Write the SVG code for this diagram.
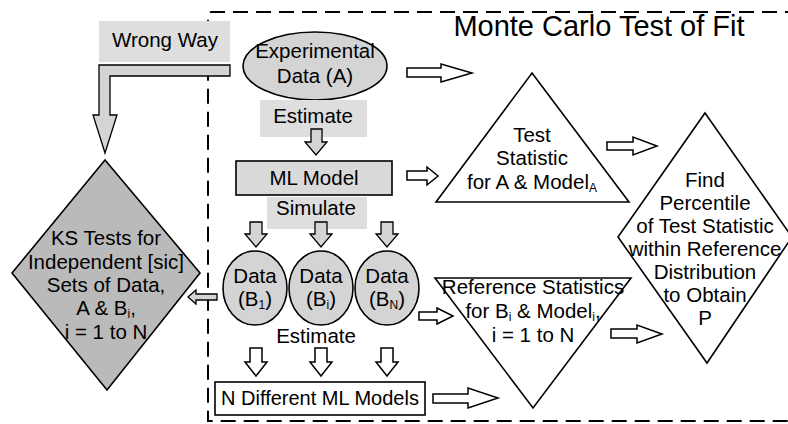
<svg xmlns="http://www.w3.org/2000/svg" width="788" height="424" viewBox="0 0 788 424">
<style>
text{font-family:"Liberation Sans",Arial,sans-serif;font-size:20.5px;fill:#000;text-anchor:middle}
.t{font-size:29px}
.sub{font-size:12px}
.shape{stroke:#000;stroke-width:1.6;fill:#fff}
.g1{fill:#dadada}
.g2{fill:#d4d4d4}
.g3{fill:#bababa}
.lbl{fill:#dedede;stroke:none}
.arr{fill:#fff;stroke:#000;stroke-width:1.5;stroke-linejoin:miter}
.garr{fill:#d4d4d4;stroke:#000;stroke-width:1.3}
.border{fill:none;stroke:#000;stroke-width:2;stroke-dasharray:15 8}
</style>
<rect width="788" height="424" fill="#fff"/>
<g id="frame">
<path class="border" d="M800 12 H212 Q208 12 208 16 V421 H800"/>
<text class="t" x="599" y="36">Monte Carlo Test of Fit</text>
</g>
<g id="wrongway">
<rect class="lbl" x="99" y="21" width="131" height="41"/>
<text x="165" y="47">Wrong Way</text>
</g>
<g id="expdata">
<ellipse class="shape g2" cx="315" cy="66" rx="72" ry="34"/>
<text x="315" y="58">Experimental</text>
<text x="315" y="83">Data (A)</text>
</g>
<g id="estimate1">
<rect class="lbl" x="260" y="100" width="107" height="37"/>
<text x="313" y="123">Estimate</text>
</g>
<g id="mlmodel">
<rect class="shape g1" x="236" y="161" width="156" height="34" stroke-width="2"/>
<text x="314" y="185">ML Model</text>
</g>
<g id="simulate">
<rect class="lbl" x="267" y="197" width="100" height="32"/>
<text x="316" y="215">Simulate</text>
</g>
<g id="dataB1">
<ellipse class="shape g2" cx="255" cy="288" rx="32" ry="37"/>
<text x="255" y="283">Data</text>
<text x="255" y="306">(B<tspan class="sub" dy="3">1</tspan><tspan dy="-3">)</tspan></text>
</g>
<g id="dataBi">
<ellipse class="shape g2" cx="321" cy="288" rx="32" ry="37"/>
<text x="321" y="283">Data</text>
<text x="321" y="306">(B<tspan class="sub" dy="3">i</tspan><tspan dy="-3">)</tspan></text>
</g>
<g id="dataBN">
<ellipse class="shape g2" cx="387" cy="288" rx="32" ry="37"/>
<text x="387" y="283">Data</text>
<text x="387" y="306">(B<tspan class="sub" dy="3">N</tspan><tspan dy="-3">)</tspan></text>
</g>
<g id="estimate2">
<text x="316" y="343">Estimate</text>
</g>
<g id="nmodels">
<rect class="shape" x="215" y="382" width="210" height="33"/>
<text x="320" y="405" style="font-size:20px">N Different ML Models</text>
</g>
<g id="kstests">
<polygon class="shape g3" points="105,160 200,273 107,390 12,273"/>
<text x="106" y="245">KS Tests for</text>
<text x="106" y="269">Independent [sic]</text>
<text x="106" y="292">Sets of Data,</text>
<text x="106" y="315">A &amp; B<tspan class="sub" dy="3">i</tspan><tspan dy="-3">,</tspan></text>
<text x="106" y="339">i = 1 to N</text>
</g>
<g id="teststat">
<polygon class="shape" points="532,73 629,202 436,202"/>
<text x="532" y="142">Test</text>
<text x="532" y="165">Statistic</text>
<text x="532" y="189">for A &amp; Model<tspan class="sub" dy="3">A</tspan></text>
</g>
<g id="refstat">
<polygon class="shape" points="435,278 631,278 533,408"/>
<text x="533" y="294">Reference Statistics</text>
<text x="533" y="318">for B<tspan class="sub" dy="3">i</tspan><tspan dy="-3"> &amp; Model</tspan><tspan class="sub" dy="3">i</tspan><tspan dy="-3">,</tspan></text>
<text x="533" y="342">i = 1 to N</text>
</g>
<g id="findp">
<polygon class="shape" points="705,113 792,237 707,363 618,237"/>
<text x="705" y="187">Find</text>
<text x="705" y="210">Percentile</text>
<text x="705" y="233">of Test Statistic</text>
<text x="705" y="256">within Reference</text>
<text x="705" y="279">Distribution</text>
<text x="705" y="302">to Obtain</text>
<text x="705" y="325">P</text>
</g>
<g id="connectors">
<polygon class="garr" points="230,65 230,76 110,76 110,115 117,115 105,153 93,115 99,115 99,65"/>
<polygon class="arr" points="407,68 441,68 441,64 472,73 441,82 441,77 407,77"/>
<polygon class="arr" points="407,171 427,171 427,167 438,176 427,185 427,180 407,180"/>
<polygon class="arr" points="607,142 633,142 633,137 657,146 633,155 633,150 607,150"/>
<polygon class="arr" points="419,312 437,312 437,308 453,316 437,324 437,320 419,320"/>
<polygon class="arr" points="611,329 637,329 637,325 662,334 637,343 637,338 611,338"/>
<polygon class="arr" points="433,394 468,394 468,388 498,398 468,408 468,403 433,403"/>
<polygon class="garr" points="217,294 196,294 196,290 188,297 196,304 196,300 217,300"/>
<polygon class="garr" points="311,129 322,129 322,142 327,142 316,155 305,142 311,142"/>
<polygon class="garr" points="250,222 262,222 262,234 267,234 256,247 245,234 250,234"/>
<polygon class="garr" points="315,222 327,222 327,234 332,234 321,247 310,234 315,234"/>
<polygon class="garr" points="381,222 393,222 393,234 398,234 387,247 376,234 381,234"/>
<polygon class="arr" points="250,348 262,348 262,362 267,362 256,376 245,362 250,362"/>
<polygon class="arr" points="315,348 327,348 327,362 332,362 321,376 310,362 315,362"/>
<polygon class="arr" points="381,348 393,348 393,362 398,362 387,376 376,362 381,362"/>
</g>
</svg>
